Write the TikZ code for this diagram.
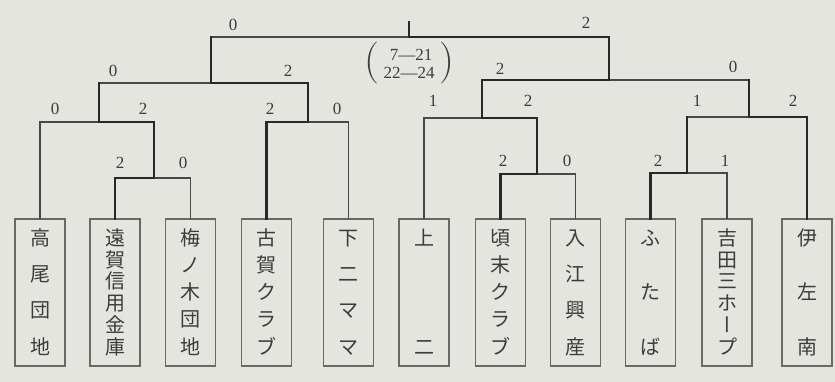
\documentclass[tikz,border=0pt]{standalone}
\usepackage{fontspec}
\newfontfamily\jp{Noto Sans CJK JP}
\newfontfamily\jpv[RawFeature=+vert]{Noto Sans CJK JP}
\newfontfamily\numf{Liberation Serif}
\definecolor{paper}{RGB}{228,229,223}
\definecolor{ink}{RGB}{40,40,40}
\definecolor{boxline}{RGB}{105,105,102}
\definecolor{txt}{RGB}{60,60,60}
\newcommand{\ch}[1]{\hbox to 26pt{\hss\rule[-3pt]{0pt}{20.5pt}#1\hss}}
\newcommand{\vstk}[1]{\vbox to 126pt{\offinterlineskip#1}}
\tikzset{
  team/.style={draw=boxline, line width=1.3pt, minimum width=50pt, minimum height=147pt,
    inner sep=0pt, text=txt, font=\fontsize{20}{20}\jp},
  score/.style={font=\fontsize{17}{17}\numf, text=txt, inner sep=0pt},
  paren/.style={font=\fontsize{42}{42}\rmfamily, text=txt, inner sep=0pt},
  win/.style={draw=ink, line width=2.6pt, line cap=rect, line join=miter},
  lose/.style={draw=ink!85, line width=1.4pt, line cap=rect, line join=miter}
}
\begin{document}
\begin{tikzpicture}[x=1pt,y=-1pt]
\fill[paper] (0,0) rectangle (835,382);
\useasboundingbox (0,0) rectangle (835,382);

% teams
\node[team] (b1) at (40,292.5) {\vstk{\ch{高}\vfill\ch{尾}\vfill\ch{団}\vfill\ch{地}}};
\node[team] (b2) at (115,292.5) {\vstk{\ch{遠}\vfill\ch{賀}\vfill\ch{信}\vfill\ch{用}\vfill\ch{金}\vfill\ch{庫}}};
\node[team] (b3) at (190.5,292.5) {\vstk{\ch{梅}\vfill\ch{ノ}\vfill\ch{木}\vfill\ch{団}\vfill\ch{地}}};
\node[team] (b4) at (266.5,292.5) {\vstk{\ch{古}\vfill\ch{賀}\vfill\ch{ク}\vfill\ch{ラ}\vfill\ch{ブ}}};
\node[team] (b5) at (348.5,292.5) {\vstk{\ch{下}\vfill\ch{二}\vfill\ch{マ}\vfill\ch{マ}}};
\node[team] (b6) at (424,292.5) {\vstk{\ch{上}\vfill\ch{二}}};
\node[team] (b7) at (500.5,292.5) {\vstk{\ch{頃}\vfill\ch{末}\vfill\ch{ク}\vfill\ch{ラ}\vfill\ch{ブ}}};
\node[team] (b8) at (575.5,292.5) {\vstk{\ch{入}\vfill\ch{江}\vfill\ch{興}\vfill\ch{産}}};
\node[team] (b9) at (650.5,292.5) {\vstk{\ch{ふ}\vfill\ch{た}\vfill\ch{ば}}};
\node[team] (b10) at (727,292.5) {\vstk{\ch{吉}\vfill\ch{田}\vfill\ch{三}\vfill\ch{ホ}\vfill\ch{\jpv ー}\vfill\ch{プ}}};
\node[team] (b11) at (807,292.5) {\vstk{\ch{伊}\vfill\ch{左}\vfill\ch{南}}};

% junctions
\coordinate (ra) at (154,178);
\coordinate (qa) at (99,122);
\coordinate (qb) at (308,122);
\coordinate (sa) at (211,83);
\coordinate (rb) at (537,174);
\coordinate (qc) at (482,118);
\coordinate (rc) at (687,173);
\coordinate (qd) at (749,117);
\coordinate (sb) at (609,80);
\coordinate (fin) at (409,37);
\coordinate (top) at (409,22);

% left half
\draw[lose] (b1.north) |- (qa);
\draw[lose] (ra) -| (b3.north);
\draw[win] (b2.north) |- (ra);
\draw[win] (qa) -| (ra);
\draw[lose] (qb) -| (b5.north);
\draw[win] (b4.north) |- (qb);
\draw[lose] (sa) -| (qa);
\draw[win] (qa) -- (qa|-sa);
\draw[win] (sa) -| (qb);
\draw[lose] (sa|-fin) -- (fin);
\draw[win] (sa) -- (sa|-fin);
% final
\draw[win] (fin) -| (sb);
\draw[win] (fin) -- (top);
% right half
\draw[lose] (sb) -- (sb-|qd);
\draw[win] (sb-|qd) -- (qd);
\draw[win] (sb) -| (qc);
\draw[lose] (qc) -| (b6.north);
\draw[win] (qc) -| (rb);
\draw[lose] (rb) -| (b8.north);
\draw[win] (rb) -| (b7.north);
\draw[lose] (qd) -- (qd-|rc);
\draw[win] (qd-|rc) -- (rc);
\draw[win] (qd) -| (b11.north);
\draw[lose] (rc) -| (b10.north);
\draw[win] (rc) -| (b9.north);

% scores
\node[score] (f1) at (233,25) {0};
\node[score] (f2) at (586,23) {2};
\node[score] (s1) at (113,71) {0};
\node[score] (s2) at (288,71) {2};
\node[score] (s3) at (500,69) {2};
\node[score] (s4) at (733,67) {0};
\node[score] (q1) at (55,109) {0};
\node[score] (q2) at (143,109) {2};
\node[score] (q3) at (270,109) {2};
\node[score] (q4) at (337,109) {0};
\node[score] (q5) at (433,101) {1};
\node[score] (q6) at (528,101) {2};
\node[score] (q7) at (697,101) {1};
\node[score] (q8) at (793,101) {2};
\node[score] (r1) at (120,163) {2};
\node[score] (r2) at (183,163) {0};
\node[score] (r3) at (503,161) {2};
\node[score] (r4) at (567,161) {0};
\node[score] (r5) at (658,161) {2};
\node[score] (r6) at (725,161) {1};

% set scores of the final
\node[score] (res1) at (411,55) {7—21};
\node[score] (res2) at (409,73) {22—24};
\node[paren] (lp) at (372,63) {(};
\node[paren] (rp) at (447,63) {)};
\end{tikzpicture}
\end{document}
